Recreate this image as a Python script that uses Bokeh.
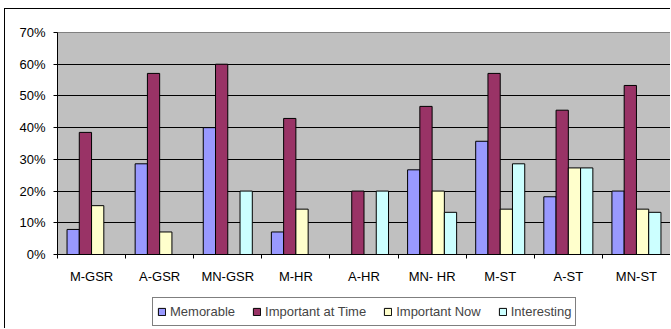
from bokeh.plotting import figure
from bokeh.layouts import column
from bokeh.models import Range1d, FixedTicker, NumeralTickFormatter, Legend, LegendItem, ColumnDataSource
from bokeh.embed import file_html
from bokeh.resources import INLINE

categories = ["M-GSR", "A-GSR", "MN-GSR", "M-HR", "A-HR", "MN- HR", "M-ST", "A-ST", "MN-ST"]
memorable = [0.079, 0.286, 0.40, 0.071, 0.0, 0.267, 0.357, 0.182, 0.20]
important_at_time = [0.385, 0.571, 0.60, 0.429, 0.20, 0.467, 0.571, 0.455, 0.533]
important_now = [0.154, 0.071, 0.0, 0.143, 0.0, 0.20, 0.143, 0.273, 0.143]
interesting = [0.0, 0.0, 0.20, 0.0, 0.20, 0.133, 0.286, 0.273, 0.133]
series_names = ["Memorable", "Important at Time", "Important Now", "Interesting"]
colors = ["#9999FF", "#993366", "#FFFFCC", "#CCFFFF"]
y_ticks = [0.0, 0.1, 0.2, 0.3, 0.4, 0.5, 0.6, 0.7]

FONT = "Liberation Sans"
n = len(categories)
series = [memorable, important_at_time, important_now, interesting]

p = figure(width=666, height=288, output_backend="svg", toolbar_location=None,
           x_range=Range1d(0, n), y_range=Range1d(0, 0.7),
           min_border_left=52, min_border_right=1, min_border_top=23, min_border_bottom=43,
           styles={"margin": "8px 0 0 4px", "border-top": "1px solid black",
                   "border-left": "1px solid black"})
p.background_fill_color = "#C0C0C0"
p.border_fill_color = "white"
p.outline_line_color = "#808080"

bw = 0.18
sources = []
for k, (vals, name, col) in enumerate(zip(series, series_names, colors)):
    xs = [i + 0.5 + (k - 1.5) * bw for i in range(n)]
    src = ColumnDataSource(dict(x=xs, top=vals))
    sources.append(src)
    p.vbar(x="x", top="top", width=bw, source=src, fill_color=col,
           line_color="black", line_width=1)

# x axis
centers = [i + 0.5 for i in range(n)]
p.xaxis.ticker = FixedTicker(ticks=centers, minor_ticks=list(range(n + 1)))
p.xaxis.major_label_overrides = {c: lab for c, lab in zip(centers, categories)}
p.xaxis.major_tick_line_color = None
p.xaxis.major_tick_out = 0
p.xaxis.major_tick_in = 0
p.xaxis.minor_tick_line_color = "black"
p.xaxis.minor_tick_out = 4
p.xaxis.minor_tick_in = 0
p.xaxis.major_label_standoff = 10
p.xaxis.axis_line_color = "black"
p.xaxis.major_label_text_font = FONT
p.xaxis.major_label_text_font_size = "13px"
p.xaxis.major_label_text_color = "black"

# y axis
p.yaxis.ticker = FixedTicker(ticks=y_ticks, minor_ticks=[])
p.yaxis.formatter = NumeralTickFormatter(format="0%")
p.yaxis.major_tick_out = 4
p.yaxis.major_tick_in = 0
p.yaxis.minor_tick_line_color = None
p.yaxis.major_label_standoff = 8
p.yaxis.axis_line_color = "black"
p.yaxis.major_label_text_font = FONT
p.yaxis.major_label_text_font_size = "13px"
p.yaxis.major_label_text_color = "black"

p.xgrid.grid_line_color = None
p.ygrid.ticker = FixedTicker(ticks=y_ticks[1:-1])
p.ygrid.grid_line_color = "black"
p.ygrid.grid_line_width = 1

# legend strip below the chart (same series; its bars fall outside this strip's view)
p2 = figure(width=666, height=32, output_backend="svg", toolbar_location=None,
            x_axis_type=None, y_axis_type=None, x_range=Range1d(0, n), y_range=Range1d(10, 11),
            min_border_left=0, min_border_right=0, min_border_top=0, min_border_bottom=0,
            styles={"margin-left": "4px", "border-left": "1px solid black"})
p2.outline_line_color = None
p2.background_fill_color = "white"
p2.border_fill_color = "white"
p2.xgrid.grid_line_color = None
p2.ygrid.grid_line_color = None
items = []
for src, name, col in zip(sources, series_names, colors):
    r = p2.vbar(x="x", top="top", width=bw, source=src, fill_color=col,
                line_color="black", line_width=1)
    items.append(LegendItem(label=name, renderers=[r]))

legend = Legend(items=items, orientation="horizontal", location=(95, 2),
                label_text_font=FONT, label_text_font_size="13px",
                glyph_width=9, glyph_height=9, label_standoff=4, spacing=17,
                padding=4, margin=0, border_line_color="black", border_line_width=1,
                background_fill_color="white", background_fill_alpha=1,
                label_height=19)
p2.add_layout(legend, "center")

layout = column(p, p2, spacing=0)

open("out.html", "w").write(file_html(layout, INLINE))
